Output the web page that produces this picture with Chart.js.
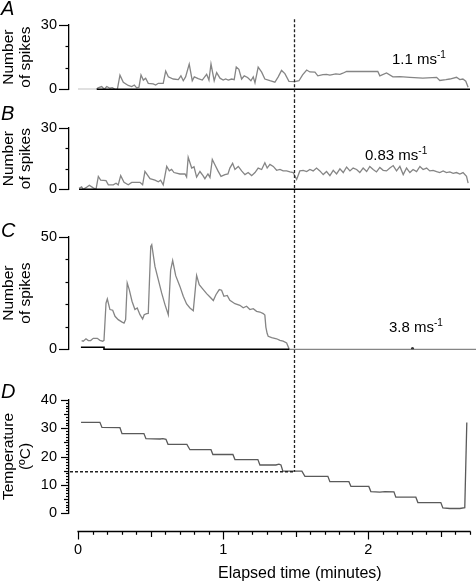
<!DOCTYPE html>
<html>
<head>
<meta charset="utf-8">
<script src="https://cdn.jsdelivr.net/npm/chart.js@4.4.1/dist/chart.umd.min.js"></script>
<style>
  html, body { margin: 0; padding: 0; background: #fff; }
  #fig { position: relative; width: 476px; height: 582px; overflow: hidden;
         font-family: 'Liberation Sans', Arial, sans-serif; color: #000; }
  #fig canvas { position: absolute; left: 0; }
  .tag { position: absolute; font-style: italic; font-size: 20px; line-height: 20px; }
  .speed { position: absolute; font-size: 15px; line-height: 15px; white-space: nowrap; }
  .speed span { position: relative; top: -6px; font-size: 10px; }
  #xTitle { position: absolute; left: 218px; top: 565px; font-size: 16px; line-height: 16px; white-space: nowrap; }
</style>
</head>
<body>
<div id="fig">
  <canvas id="chartA" width="476" height="100" style="top:0"></canvas>
  <canvas id="chartB" width="476" height="100" style="top:100px"></canvas>
  <canvas id="chartC" width="476" height="160" style="top:200px"></canvas>
  <canvas id="chartD" width="476" height="222" style="top:360px"></canvas>

  <div class="tag" style="left:1px;top:-2px">A</div>
  <div class="tag" style="left:1px;top:103px">B</div>
  <div class="tag" style="left:1px;top:220px">C</div>
  <div class="tag" style="left:1px;top:381px">D</div>

  <div class="speed" style="left:392px;top:51px">1.1 ms<span>-1</span></div>
  <div class="speed" style="left:365px;top:147px">0.83 ms<span>-1</span></div>
  <div class="speed" style="left:389px;top:319px">3.8 ms<span>-1</span></div>

  <div id="xTitle">Elapsed time (minutes)</div>
</div>

<script>
// --- Datos (tiempo en minutos) ---
const xMin = -0.062;   // eje Y despegado del origen
const xMax = 2.7;
const cueTime = 1.49;  // linea discontinua vertical
const cueTemp = 14.6;  // temperatura en ese instante (ºC)

const xTicks = [0, 1, 2];

// A: 1.1 m/s
const aTime = [0, 0.129, 0.138, 0.163, 0.181, 0.198, 0.220, 0.236, 0.255, 0.271,
  0.289, 0.312, 0.346, 0.370, 0.388, 0.404, 0.420, 0.434, 0.450, 0.466,
  0.484, 0.518, 0.535, 0.553, 0.587, 0.604, 0.622, 0.656, 0.691, 0.709,
  0.725, 0.741, 0.766, 0.787, 0.801, 0.828, 0.856, 0.886, 0.902, 0.916,
  0.938, 0.955, 0.978, 1.000, 1.017, 1.035, 1.058, 1.076, 1.090, 1.108,
  1.127, 1.145, 1.168, 1.191, 1.207, 1.219, 1.241, 1.265, 1.287, 1.322,
  1.356, 1.379, 1.402, 1.425, 1.453, 1.494, 1.522, 1.547, 1.575, 1.597,
  1.632, 1.652, 1.687, 1.712, 1.735, 1.776, 1.804, 1.824, 1.850, 2.065,
  2.079, 2.125, 2.169, 2.217, 2.286, 2.375, 2.470, 2.492, 2.534, 2.561,
  2.607, 2.630, 2.651, 2.671, 2.687];
const aSpikes = [0, 0, 0.7, 1.3, 0, 1.3, 0.5, 0.8, 0, 0,
  6.6, 3.3, 1.8, 1.3, 2, 0.7, 1, 6.7, 4.3, 5.2,
  2.8, 2.5, 2, 2.8, 2.8, 8.5, 5.8, 4.8, 4.5, 6.3,
  4, 5.8, 11.8, 4, 5.8, 5, 4.3, 7, 4.3, 11.8,
  4, 7.8, 5.2, 4.3, 4.8, 4.3, 4.8, 4.5, 10.4, 9.3,
  4.8, 6.3, 5.5, 4, 5.8, 3, 10.3, 8, 4.8, 4,
  3.3, 5.8, 8.8, 7.3, 3.7, 3.6, 4, 6.7, 9, 8.1,
  8, 6.3, 6.8, 7, 6.6, 7.2, 7.0, 7.5, 8.3, 8.3,
  6.3, 7.6, 5.8, 5.9, 5.6, 5.2, 5.6, 4.1, 4.5, 4.8,
  5.6, 4.5, 4.8, 3.8, 1];
const aBaseTime = [0.129, 2.7];
const aBaseVal = [0, 0];

// B: 0.83 m/s
const bTime = [0.007, 0.025, 0.036, 0.055, 0.078, 0.105, 0.124, 0.140, 0.156, 0.193,
  0.209, 0.243, 0.262, 0.277, 0.294, 0.317, 0.346, 0.370, 0.427, 0.445,
  0.461, 0.496, 0.530, 0.553, 0.569, 0.587, 0.611, 0.629, 0.645, 0.661,
  0.702, 0.737, 0.748, 0.759, 0.783, 0.799, 0.817, 0.840, 0.861, 0.874,
  0.895, 0.909, 0.925, 0.943, 0.964, 0.985, 1.012, 1.033, 1.046, 1.065,
  1.081, 1.104, 1.127, 1.150, 1.172, 1.196, 1.219, 1.241, 1.265, 1.287,
  1.303, 1.322, 1.345, 1.368, 1.391, 1.413, 1.437, 1.460, 1.482, 1.506,
  1.528, 1.551, 1.575, 1.597, 1.620, 1.643, 1.666, 1.689, 1.712, 1.735,
  1.758, 1.781, 1.804, 1.827, 1.850, 1.873, 1.895, 1.919, 1.941, 1.964,
  1.988, 2.010, 2.033, 2.056, 2.079, 2.102, 2.125, 2.148, 2.171, 2.194,
  2.217, 2.240, 2.263, 2.286, 2.308, 2.332, 2.355, 2.377, 2.401, 2.423,
  2.446, 2.470, 2.492, 2.515, 2.538, 2.561, 2.584, 2.607, 2.630, 2.652,
  2.676, 2.687];
const bSpikes = [0.5, 1.2, 0, 0.8, 2, 0.7, 0, 6.3, 4.5, 4.2,
  2.2, 2.2, 3, 2.2, 6.7, 3.4, 2.2, 3.4, 3.4, 2.2,
  8.8, 5.2, 4.5, 3.7, 4.5, 2.2, 11.2, 9, 9.7, 8.2,
  7.5, 7.5, 6.0, 15.7, 10.4, 11.0, 6, 8.7, 6.7, 5.2,
  7.5, 5.8, 14.6, 12, 9.0, 6.3, 7.2, 7.5, 10.4, 12.7,
  9.7, 11.2, 9.0, 7.2, 8.2, 6.7, 8.2, 10.4, 9.7, 13.0,
  10.4, 12.2, 11.2, 9.3, 9.7, 9.0, 9.0, 8.5, 8.2, 4.8,
  9.0, 9.3, 8.7, 9.7, 9.0, 10.4, 9.0, 7.2, 8.7, 6.7,
  9.3, 7.5, 10.0, 8.2, 10.9, 9.0, 10.4, 9.7, 8.2, 10.4,
  8.7, 11.2, 9.7, 8.5, 10.7, 9.3, 9.0, 10.4, 11.6, 9.0,
  11.2, 7.2, 10.4, 8.2, 9.7, 8.7, 11.2, 9.7, 10.4, 9.0,
  9.3, 8.7, 8.2, 9.0, 8.2, 8.5, 7.8, 8.2, 7.5, 8.2,
  6.3, 3.0];
const bBaseTime = [0.007, 2.7];
const bBaseVal = [0, 0];

// C: 3.8 m/s
const cTime = [0.025, 0.036, 0.055, 0.071, 0.087, 0.105, 0.133, 0.151, 0.170, 0.179,
  0.193, 0.202, 0.220, 0.239, 0.255, 0.277, 0.301, 0.317, 0.328, 0.339,
  0.353, 0.372, 0.392, 0.408, 0.427, 0.445, 0.456, 0.473, 0.484, 0.501,
  0.508, 0.530, 0.553, 0.576, 0.599, 0.622, 0.638, 0.652, 0.673, 0.702,
  0.725, 0.748, 0.771, 0.794, 0.817, 0.835, 0.863, 0.886, 0.909, 0.932,
  0.950, 0.973, 0.989, 1.005, 1.028, 1.046, 1.081, 1.115, 1.138, 1.161,
  1.184, 1.207, 1.230, 1.253, 1.276, 1.287, 1.294, 1.303, 1.310, 1.334,
  1.368, 1.391, 1.413, 1.437, 1.455, 2.75];
const cSpikes = [3.9, 3.6, 4.7, 3.9, 3.9, 4.9, 4.9, 4.0, 3.6, 4.0,
  20.6, 22.4, 17.7, 17.4, 14.7, 13.2, 12.2, 11.7, 13.2, 29.5,
  26.6, 21.4, 17.7, 18.4, 15.4, 13.5, 15.4, 15.9, 16, 45.8,
  46.6, 36.9, 31, 25.1, 19.9, 15.4, 35.2, 39.5, 32.8, 28,
  23.6, 20.2, 18.4, 17.2, 32.9, 28.8, 26.6, 24.8, 23.3, 21.7,
  24.3, 26.6, 26.3, 23.6, 24, 21.8, 20.3, 19.6, 18.5, 19.2,
  17.7, 18.1, 16.9, 16.6, 15.9, 15.2, 9.9, 7.0, 5.8, 5.2,
  4.7, 4.0, 3.6, 2.8, 0, 0];
const cBaseTime = [0.02, 0.179, 0.179, 1.455];
const cBaseVal = [0.9, 0.9, 0, 0];
const cDotTime = [2.304];
const cDotVal = [0.3];

// D: temperatura (ºC)
const dTime = [0.021, 0.151, 0.165, 0.289, 0.303, 0.454, 0.468, 0.565, 0.585, 0.606,
  0.620, 0.750, 0.771, 0.916, 0.929, 1.067, 1.081, 1.239, 1.253, 1.363,
  1.384, 1.398, 1.411, 1.542, 1.563, 1.721, 1.735, 1.866, 1.880, 2.003,
  2.017, 2.079, 2.114, 2.176, 2.189, 2.327, 2.341, 2.499, 2.513, 2.561,
  2.630, 2.664, 2.678];
const dTemp = [32.1, 32.1, 30.3, 30.2, 28.1, 28.1, 26.3, 26.2, 26.3, 26.1,
  24.3, 24.3, 22.4, 22.4, 20.7, 20.7, 18.9, 18.9, 17.0, 17.0,
  17.3, 17.0, 14.8, 14.8, 13.0, 13.0, 11.1, 11.1, 9.4, 9.4,
  7.6, 7.4, 7.6, 7.5, 5.6, 5.6, 3.7, 3.7, 1.8, 1.6,
  1.6, 1.9, 32];

const spikeTicks30 = [0, 10, 20, 30];
const spikeTicks50 = [0, 10, 20, 30, 40, 50];
const tempTicks = [0, 10, 20, 30, 40];

// --- Utilidades ---
const pts = (t, v) => t.map((x, i) => ({ x, y: v[i] }));
const GREY = '#858585';

function trace(t, v, color, order, extra) {
  return Object.assign({ data: pts(t, v), borderColor: color, borderWidth: 1.3,
    pointRadius: 0, tension: 0, order }, extra || {});
}
// linea base negra (sin recorte en el borde del area)
function baseLine(t, v) {
  return trace(t, v, '#000', 0, { borderWidth: 1.6, clip: false });
}

// marcas de los ejes (mayores/menores) dibujadas con las escalas de Chart.js
function axisMarks(yMarks, xAxis) {
  return {
    id: 'axisMarks',
    afterDraw(chart) {
      const { ctx, chartArea, scales: { x, y } } = chart;
      ctx.save();
      ctx.strokeStyle = '#000';
      ctx.lineWidth = 1.2;
      yMarks.forEach(([v, len]) => {
        const py = Math.round(y.getPixelForValue(v)) + 0.5;
        ctx.beginPath(); ctx.moveTo(chartArea.left - len, py); ctx.lineTo(chartArea.left, py); ctx.stroke();
      });
      if (xAxis) {
        const y0 = Math.round(chartArea.bottom + xAxis.gap) + 0.5;
        ctx.lineWidth = 1.3;
        ctx.beginPath();
        ctx.moveTo(x.getPixelForValue(0) - 0.6, y0);
        ctx.lineTo(x.getPixelForValue(xMax) + 0.6, y0);
        ctx.stroke();
        ctx.lineWidth = 1.2;
        xAxis.marks.forEach(([v, len]) => {
          const px = Math.round(x.getPixelForValue(v)) + 0.5;
          ctx.beginPath(); ctx.moveTo(px, y0); ctx.lineTo(px, y0 + len); ctx.stroke();
        });
      }
      ctx.restore();
    }
  };
}

// linea discontinua del instante de referencia
function cueLine(from, to, withH) {
  return {
    id: 'cueLine',
    afterDatasetsDraw(chart) {
      const { ctx, chartArea, scales: { x, y } } = chart;
      const px = Math.round(x.getPixelForValue(cueTime)) + 0.5;
      const y1 = from == null ? 0 : y.getPixelForValue(from);
      const y2 = to == null ? chart.height : y.getPixelForValue(to);
      ctx.save();
      ctx.setLineDash([3, 2]);
      ctx.strokeStyle = '#222';
      ctx.lineWidth = 1.3;
      ctx.beginPath();
      ctx.moveTo(px, y1); ctx.lineTo(px, y2);
      if (withH) { ctx.moveTo(chartArea.left + 1, y2); ctx.lineTo(px, y2); }
      ctx.stroke();
      ctx.restore();
    }
  };
}

function makeChart(id, cfg) {
  return new Chart(document.getElementById(id), {
    type: 'line',
    data: { datasets: cfg.datasets },
    options: {
      responsive: false,
      animation: false,
      devicePixelRatio: 1,
      layout: { padding: cfg.padding },
      plugins: { legend: { display: false }, tooltip: { enabled: false } },
      scales: {
        x: Object.assign({
          type: 'linear', min: xMin, max: xMax, display: false
        }, cfg.x || {}),
        y: {
          min: cfg.yMin, max: cfg.yMax,
          afterBuildTicks: s => { s.ticks = cfg.yTicks.map(v => ({ value: v })); },
          afterFit: s => { s.width = 69; },
          ticks: { autoSkip: false, padding: 2, color: '#000', font: { size: 14.5 },
                   callback: v => cfg.yLabels.includes(v) ? String(v) : '' },
          grid: { drawOnChartArea: false, tickLength: 10, tickColor: 'rgba(0,0,0,0)' },
          border: { display: true, color: '#000', width: 1.3 },
          title: { display: true, text: cfg.yTitle, color: '#000', padding: 0,
                   font: { size: 15.5, lineHeight: 1.1 } }
        }
      }
    },
    plugins: cfg.plugins
  });
}

Chart.defaults.font.family = "'Liberation Sans', Arial, sans-serif";

// --- Paneles ---
const marks30 = [[0, 10], [10, 3.5], [20, 3.5], [30, 10]];
const marks50 = [[0, 10], [10, 3.5], [20, 3.5], [30, 3.5], [40, 3.5], [50, 10]];
const marksTemp = [];
for (let v = 0; v <= 40; v++) marksTemp.push([v, v % 10 === 0 ? 8 : v % 5 === 0 ? 5 : 3]);
const marksTime = [];
for (let i = 0; i <= 27; i++) marksTime.push([i / 10, i % 10 === 0 ? 8 : i % 5 === 0 ? 5.5 : 3.3]);

makeChart('chartA', {
  padding: { top: 25, bottom: 8, left: 0, right: 6 },
  yMin: 0, yMax: 30, yTicks: spikeTicks30, yLabels: [0, 30],
  yTitle: ['Number', 'of spikes'],
  datasets: [
    baseLine(aBaseTime, aBaseVal),
    trace(aTime, aSpikes, GREY, 1)
  ],
  plugins: [axisMarks(marks30), cueLine(32.7, null)]
});

makeChart('chartB', {
  padding: { top: 28, bottom: 5, left: 0, right: 6 },
  yMin: 0, yMax: 30, yTicks: spikeTicks30, yLabels: [0, 30],
  yTitle: ['Number', 'of spikes'],
  datasets: [
    baseLine(bBaseTime, bBaseVal),
    trace(bTime, bSpikes, GREY, 1)
  ],
  plugins: [axisMarks(marks30), cueLine(null, null)]
});

makeChart('chartC', {
  padding: { top: 37, bottom: 10, left: 0, right: 6 },
  yMin: 0, yMax: 50, yTicks: spikeTicks50, yLabels: [0, 50],
  yTitle: ['Number', 'of spikes'],
  datasets: [
    baseLine(cBaseTime, cBaseVal),
    trace(cTime, cSpikes, GREY, 1, { clip: false }),
    trace(cDotTime, cDotVal, '#333', 0, { showLine: false, pointRadius: 1.6,
      pointBackgroundColor: '#333', pointBorderWidth: 0 })
  ],
  plugins: [axisMarks(marks50), cueLine(null, null)]
});

makeChart('chartD', {
  padding: { top: 40, bottom: 0, left: 0, right: 6 },
  yMin: 0, yMax: 40, yTicks: tempTicks, yLabels: tempTicks,
  yTitle: ['Temperature', '(ºC)'],
  x: {
    display: true,
    afterBuildTicks: s => { s.ticks = xTicks.map(v => ({ value: v })); },
    afterFit: s => { s.height = 69; },
    ticks: { autoSkip: false, maxRotation: 0, padding: 2, color: '#000', font: { size: 14.5 },
             callback: v => String(v) },
    grid: { drawOnChartArea: false, tickLength: 26, tickColor: 'rgba(0,0,0,0)' },
    border: { display: false }
  },
  datasets: [
    trace(dTime, dTemp, '#5a5a5a', 0)
  ],
  plugins: [axisMarks(marksTemp, { gap: 18, marks: marksTime }), cueLine(null, cueTemp, true)]
});
</script>
</body>
</html>
